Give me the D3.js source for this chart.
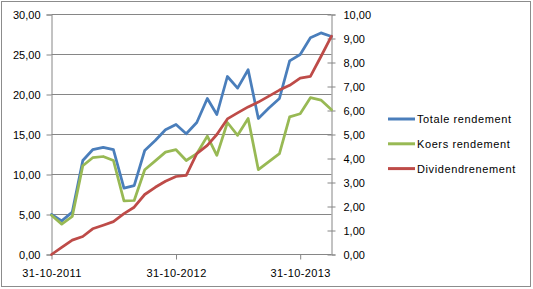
<!DOCTYPE html>
<html><head><meta charset="utf-8">
<script src="https://cdn.jsdelivr.net/npm/d3@7"></script>
<style>body{margin:0;background:#fff}svg{display:block}text{font-family:"Liberation Sans",Arial,sans-serif;font-size:11px;fill:#000}</style>
</head><body><svg id="c" width="533" height="289"></svg>
<script>
const months = ["2011-10-31","2011-11-30","2011-12-31","2012-01-31","2012-02-29","2012-03-31","2012-04-30","2012-05-31","2012-06-30","2012-07-31","2012-08-31","2012-09-30","2012-10-31","2012-11-30","2012-12-31","2013-01-31","2013-02-28","2013-03-31","2013-04-30","2013-05-31","2013-06-30","2013-07-31","2013-08-31","2013-09-30","2013-10-31","2013-11-30","2013-12-31","2014-01-31"];
const totaleRendement = [5.0,4.2,5.3,11.75,13.1,13.4,13.1,8.3,8.6,13.0,14.25,15.6,16.25,15.1,16.5,19.5,17.5,22.25,20.8,23.1,17.0,18.3,19.5,24.2,25.0,27.1,27.7,27.25];
const koersRendement = [4.9,3.8,4.75,11.1,12.1,12.25,11.75,6.7,6.75,10.6,11.7,12.8,13.1,11.75,12.6,14.8,12.4,16.5,14.9,17.0,10.6,11.6,12.6,17.2,17.6,19.6,19.3,18.1];
const dividendRendement = [0.0,0.3,0.6,0.75,1.07,1.22,1.37,1.7,1.97,2.5,2.8,3.05,3.25,3.3,4.2,4.55,5.0,5.65,5.9,6.15,6.35,6.6,6.85,7.05,7.35,7.42,8.25,9.1];
const leftTicks = [0,5,10,15,20,25,30];
const rightTicks = [0,1,2,3,4,5,6,7,8,9,10];
const xTickDates = ["2011-10-31","2012-10-31","2013-10-31"];
const seriesNames = ["Totale rendement","Koers rendement","Dividendrenement"];
const colors = ["#4A7EBB","#98B954","#BE4B48"];

const parse = d3.timeParse("%Y-%m-%d");
const dates = months.map(parse);
const svg = d3.select("#c");
const L=51.5, R=331.5, T=14.5, B=254.5;
const x = d3.scaleTime().domain([dates[0], dates[dates.length-1]]).range([L,R]);
const yL = d3.scaleLinear().domain([0,30]).range([B,T]);
const yR = d3.scaleLinear().domain([0,10]).range([B,T]);
const fmt = v => d3.format(".2f")(v).replace(".",",");

svg.append("rect").attr("x",1.5).attr("y",1.5).attr("width",529).attr("height",285).attr("fill","#fff").attr("stroke","#8c8c8c");

// gridlines
svg.append("g").selectAll("line").data(leftTicks.filter(d=>d>0)).join("line")
  .attr("x1",L).attr("x2",R).attr("y1",d=>yL(d)).attr("y2",d=>yL(d))
  .attr("stroke","#868686");

const gL = svg.append("g").attr("transform",`translate(${L},0)`)
  .call(d3.axisLeft(yL).tickValues(leftTicks).tickFormat(fmt).tickSize(5).tickPadding(6));
const gR = svg.append("g").attr("transform",`translate(${R},0)`)
  .call(d3.axisRight(yR).tickValues(rightTicks).tickFormat(fmt).tickSize(4).tickPadding(8));
gR.selectAll(".tick line").attr("x1",-4);
const gB = svg.append("g").attr("transform",`translate(0,${B})`)
  .call(d3.axisBottom(x).tickValues(xTickDates.map(parse)).tickFormat(d3.timeFormat("%d-%m-%Y")).tickSize(5).tickPadding(10));
[gL,gR,gB].forEach(g=>{
  g.select(".domain").attr("stroke","#868686");
  g.selectAll(".tick line").attr("stroke","#868686");
  g.selectAll("text").style("font-family",'"Liberation Sans",Arial,sans-serif').style("font-size","11px").attr("fill","#000");
});
gB.selectAll("text").style("letter-spacing","0.4px");
gB.select(".domain").attr("d",`M${L},0H${R}`);

const line = (ys, vals) => d3.line().x((d,i)=>x(dates[i])).y(d=>ys(d))(vals);
const data = [[yL,totaleRendement],[yL,koersRendement],[yR,dividendRendement]];
data.forEach(([ys,vals],k)=>{
  svg.append("path").attr("d",line(ys,vals)).attr("fill","none")
    .attr("stroke",colors[k]).attr("stroke-width",2.75).attr("stroke-linejoin","round").attr("stroke-linecap","round");
});

const lg = svg.append("g");
seriesNames.forEach((n,k)=>{
  const yy = 119 + k*24.8;
  lg.append("line").attr("x1",388).attr("x2",415).attr("y1",yy).attr("y2",yy).attr("stroke",colors[k]).attr("stroke-width",3);
  lg.append("text").attr("x",417).attr("y",yy+4).style("letter-spacing","0.6px").text(n);
});
</script></body></html>
